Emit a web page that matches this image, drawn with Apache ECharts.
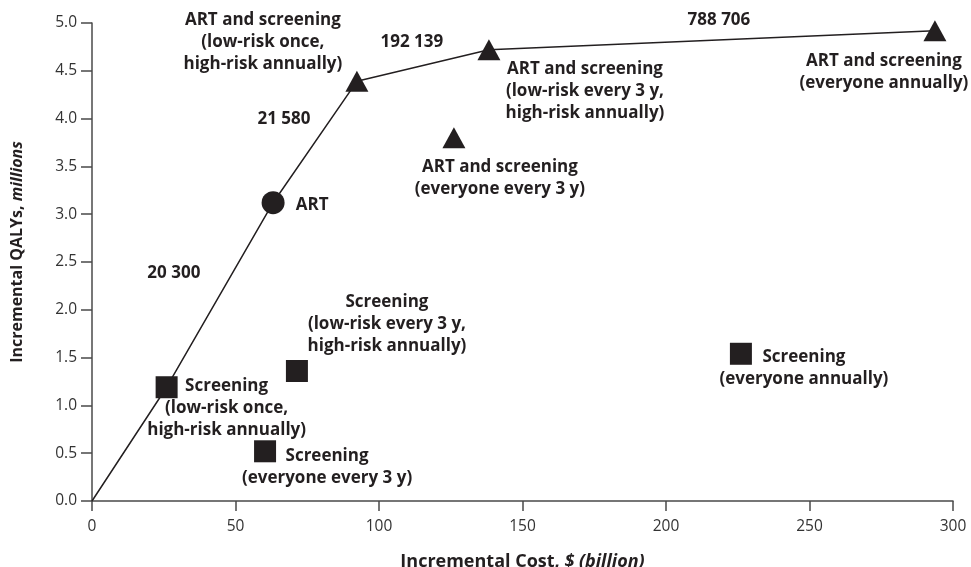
<!DOCTYPE html>
<html>
<head>
<meta charset="utf-8">
<script src="https://cdn.jsdelivr.net/npm/echarts@6/dist/echarts.min.js"></script>
<style>html,body{margin:0;padding:0;background:#fff}#c{width:971px;height:567px}</style>
</head>
<body>
<div id="c"></div>
<script>
// ---- data ----
const screeningLabels = ['Screening\n(low-risk once,\nhigh-risk annually)', 'Screening\n(low-risk every 3 y,\nhigh-risk annually)', 'Screening\n(everyone every 3 y)', 'Screening\n(everyone annually)'];
const screeningCost = [26, 71.4, 60.3, 226.1];
const screeningQalys = [1.19, 1.36, 0.52, 1.54];

const artLabels = ['ART'];
const artCost = [63.1];
const artQalys = [3.12];

const artScreenLabels = ['ART and screening\n(low-risk once,\nhigh-risk annually)', 'ART and screening\n(low-risk every 3 y,\nhigh-risk annually)', 'ART and screening\n(everyone every 3 y)', 'ART and screening\n(everyone annually)'];
const artScreenCost = [92.3, 138.3, 126.1, 293.7];
const artScreenQalys = [4.39, 4.72, 3.80, 4.92];

const frontierCost = [0, 26, 63.1, 92.3, 138.3, 293.7];
const frontierQalys = [0, 1.19, 3.12, 4.39, 4.72, 4.92];
const icerLabels = ['', '20 300', '21 580', '192 139', '788 706'];

const xTicks = [0, 50, 100, 150, 200, 250, 300];
const yTicks = [0, 0.5, 1, 1.5, 2, 2.5, 3, 3.5, 4, 4.5, 5];

// ---- styles ----
const ink = '#231f20';
const font = 'Open Sans';
const screeningOffsets = [[60, 21], [90, -47], [62, 16], [63, 14]];
const artOffsets = [[39, 2]];
const artScreenOffsets = [[-94, -39], [96, 41], [46, 40], [-51, 42]];
const icerOffsets = [[0, 0], [-46, -22], [-31, -23], [-11, -23], [7, -20]];

const labelStyle = {
  show: true, position: 'inside', align: 'center', verticalAlign: 'middle',
  color: ink, fontFamily: font, fontWeight: 'bold', fontSize: 17, lineHeight: 22
};

function pts(xs, ys, names, offsets) {
  return xs.map((x, i) => ({ value: [x, ys[i]], name: names[i], label: { offset: offsets[i] } }));
}

const icerData = [];
for (let i = 0; i < frontierCost.length - 1; i++) {
  if (!icerLabels[i]) continue;
  icerData.push({
    value: [(frontierCost[i] + frontierCost[i + 1]) / 2, (frontierQalys[i] + frontierQalys[i + 1]) / 2],
    name: icerLabels[i],
    label: { offset: icerOffsets[i] }
  });
}

const chart = echarts.init(document.getElementById('c'));
const axisCol = '#4a4a4a';
const richFor = size => ({
  a: { fontFamily: font, fontWeight: 'bold', fontSize: size, color: ink },
  b: { fontFamily: font, fontWeight: 'bold', fontStyle: 'italic', fontSize: size, color: ink }
});
chart.setOption({
  animation: false,
  grid: { left: 92, right: 18, top: 23, bottom: 66, outerBoundsMode: 'none', containLabel: false },
  xAxis: {
    type: 'value', min: xTicks[0], max: xTicks[xTicks.length - 1], interval: xTicks[1] - xTicks[0],
    name: '{a|Incremental Cost, }{b|$ (billion)}', nameLocation: 'middle', nameGap: 52,
    nameTextStyle: { rich: richFor(18) },
    axisLine: { lineStyle: { color: axisCol, width: 1.5 } },
    axisTick: { length: 10, lineStyle: { color: axisCol, width: 1.5 } },
    axisLabel: { margin: 18, color: '#333', fontFamily: font, fontSize: 15.5 },
    splitLine: { show: false }
  },
  yAxis: {
    type: 'value', min: yTicks[0], max: yTicks[yTicks.length - 1], interval: yTicks[1] - yTicks[0],
    name: '{a|Incremental QALYs, }{b|millions}', nameLocation: 'middle', nameGap: 67, nameRotate: 90,
    nameTextStyle: { rich: richFor(16), padding: [0, 0, 0, 20] },
    axisLine: { lineStyle: { color: axisCol, width: 1.5 } },
    axisTick: { length: 11, lineStyle: { color: axisCol, width: 1.5 } },
    axisLabel: { margin: 15, color: '#333', fontFamily: font, fontSize: 15.5, formatter: v => v.toFixed(1) },
    splitLine: { show: false }
  },
  series: [
    {
      type: 'line', data: frontierCost.map((x, i) => [x, frontierQalys[i]]),
      showSymbol: false, symbol: 'none', lineStyle: { color: ink, width: 1.5 }, z: 1
    },
    {
      type: 'scatter', symbol: 'rect', symbolSize: 22, itemStyle: { color: ink, opacity: 1 },
      data: pts(screeningCost, screeningQalys, screeningLabels, screeningOffsets),
      label: Object.assign({}, labelStyle, { formatter: p => p.name }), z: 3
    },
    {
      type: 'scatter', symbol: 'circle', symbolSize: 23, itemStyle: { color: ink, opacity: 1 },
      data: pts(artCost, artQalys, artLabels, artOffsets),
      label: Object.assign({}, labelStyle, { formatter: p => p.name }), z: 3
    },
    {
      type: 'scatter', symbol: 'triangle', symbolSize: [23, 21], itemStyle: { color: ink, opacity: 1 },
      data: pts(artScreenCost, artScreenQalys, artScreenLabels, artScreenOffsets),
      label: Object.assign({}, labelStyle, { formatter: p => p.name }), z: 3
    },
    {
      type: 'scatter', symbol: 'circle', symbolSize: 1, silent: true,
      itemStyle: { color: 'rgba(0,0,0,0)', opacity: 1 },
      data: icerData,
      label: Object.assign({}, labelStyle, { formatter: p => p.name }), z: 3
    }
  ]
});
</script>
</body>
</html>
